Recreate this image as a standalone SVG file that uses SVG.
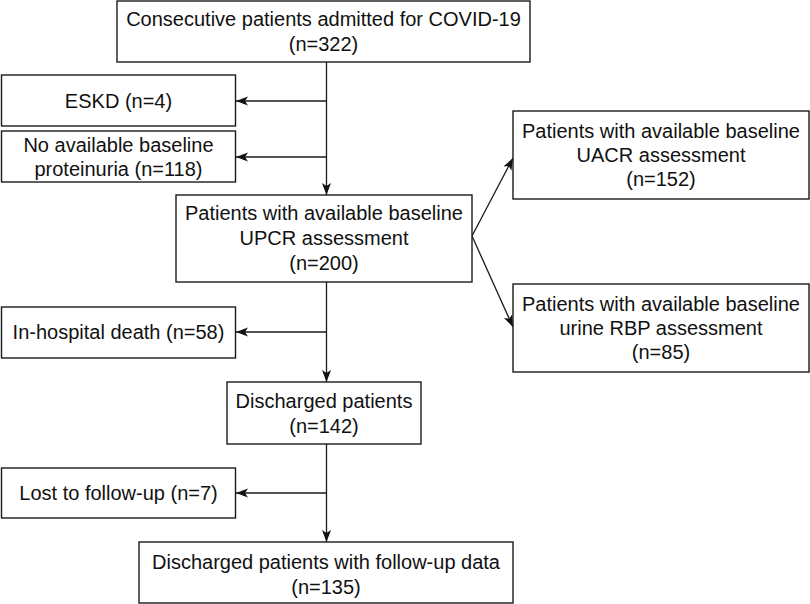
<svg xmlns="http://www.w3.org/2000/svg" width="810" height="604" viewBox="0 0 810 604">
  <style>
    .box { fill: #ffffff; stroke: #1a1a1a; stroke-width: 1.4; }
    .lbl { font-family: "Liberation Sans", Arial, Helvetica, sans-serif; font-size: 20px; fill: #111111; text-anchor: middle; }
    .edge { fill: none; stroke: #1a1a1a; stroke-width: 1.3; }
  </style>
  <defs>
    <marker id="arrow" viewBox="0 0 12 10" refX="12" refY="5" markerWidth="12" markerHeight="10" markerUnits="userSpaceOnUse" orient="auto">
      <path d="M0,0.5 L12,5 L0,9.5 L3,5 Z" fill="#111111"/>
    </marker>
  </defs>
  <rect width="810" height="604" fill="#ffffff"/>

  <g id="connectors">
    <line class="edge" x1="326.5" y1="62" x2="326.5" y2="195" marker-end="url(#arrow)"/>
    <line class="edge" x1="326.5" y1="101" x2="236" y2="101" marker-end="url(#arrow)"/>
    <line class="edge" x1="326.5" y1="157" x2="236" y2="157" marker-end="url(#arrow)"/>
    <line class="edge" x1="472" y1="236" x2="513" y2="158" marker-end="url(#arrow)"/>
    <line class="edge" x1="472" y1="236" x2="513" y2="327" marker-end="url(#arrow)"/>
    <line class="edge" x1="326.5" y1="282" x2="326.5" y2="382" marker-end="url(#arrow)"/>
    <line class="edge" x1="326.5" y1="332" x2="236" y2="332" marker-end="url(#arrow)"/>
    <line class="edge" x1="326.5" y1="444" x2="326.5" y2="542" marker-end="url(#arrow)"/>
    <line class="edge" x1="326.5" y1="493" x2="236" y2="493" marker-end="url(#arrow)"/>
  </g>

  <g id="admitted">
    <rect class="box" x="117" y="1" width="413" height="61"/>
    <text class="lbl" x="323.5" y="26">Consecutive patients admitted for COVID-19</text>
    <text class="lbl" x="323.5" y="51">(n=322)</text>
  </g>

  <g id="eskd">
    <rect class="box" x="1.5" y="75" width="234" height="51"/>
    <text class="lbl" x="118.5" y="108">ESKD (n=4)</text>
  </g>

  <g id="no-proteinuria">
    <rect class="box" x="1.5" y="131" width="234" height="51"/>
    <text class="lbl" x="118.5" y="152">No available baseline</text>
    <text class="lbl" x="118.5" y="176">proteinuria (n=118)</text>
  </g>

  <g id="upcr">
    <rect class="box" x="176" y="195" width="296" height="87"/>
    <text class="lbl" x="324" y="220">Patients with available baseline</text>
    <text class="lbl" x="324" y="245">UPCR assessment</text>
    <text class="lbl" x="324" y="270">(n=200)</text>
  </g>

  <g id="uacr">
    <rect class="box" x="513" y="111" width="296" height="88"/>
    <text class="lbl" x="661" y="138">Patients with available baseline</text>
    <text class="lbl" x="661" y="162">UACR assessment</text>
    <text class="lbl" x="661" y="186">(n=152)</text>
  </g>

  <g id="rbp">
    <rect class="box" x="513" y="284" width="296" height="88"/>
    <text class="lbl" x="661" y="311">Patients with available baseline</text>
    <text class="lbl" x="661" y="335">urine RBP assessment</text>
    <text class="lbl" x="661" y="359">(n=85)</text>
  </g>

  <g id="death">
    <rect class="box" x="1.5" y="307" width="234" height="51"/>
    <text class="lbl" x="118.5" y="339">In-hospital death (n=58)</text>
  </g>

  <g id="discharged">
    <rect class="box" x="227" y="382" width="194" height="62"/>
    <text class="lbl" x="324" y="408">Discharged patients</text>
    <text class="lbl" x="324" y="433">(n=142)</text>
  </g>

  <g id="lost">
    <rect class="box" x="1.5" y="468" width="234" height="50"/>
    <text class="lbl" x="118.5" y="500">Lost to follow-up (n=7)</text>
  </g>

  <g id="followup">
    <rect class="box" x="139" y="542" width="374" height="61"/>
    <text class="lbl" x="326" y="569">Discharged patients with follow-up data</text>
    <text class="lbl" x="326" y="594">(n=135)</text>
  </g>
</svg>
